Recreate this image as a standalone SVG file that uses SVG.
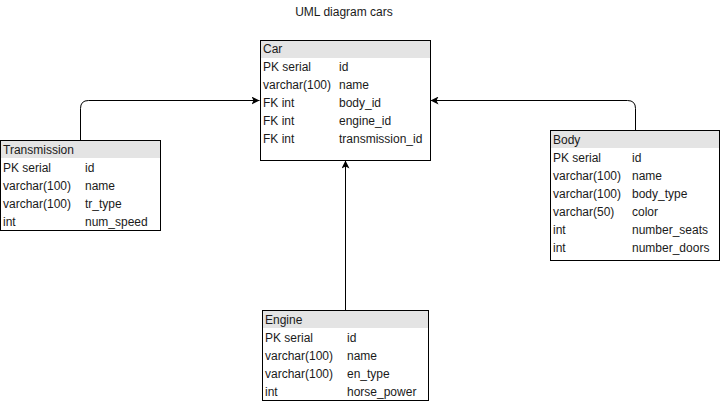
<svg xmlns="http://www.w3.org/2000/svg" width="721" height="401" viewBox="0 0 721 401">
<defs>
<style>
.box{fill:#ffffff;stroke:#000000;stroke-width:1}
.hdr{fill:#e4e4e4;stroke:none}
.t{font-family:"Liberation Sans",Arial,sans-serif;font-size:12px;fill:#1a1a1a}
.title{font-family:"Liberation Sans",Arial,sans-serif;font-size:12px;fill:#1a1a1a;text-anchor:middle}
.edge{fill:none;stroke:#000000;stroke-width:1}
</style>
<marker id="arr" viewBox="0 0 10 10" refX="10" refY="5" markerWidth="8" markerHeight="8" markerUnits="userSpaceOnUse" orient="auto">
<path d="M0,0 L10,5 L0,10 L2.5,5 Z" fill="#000000"/>
</marker>
</defs>
<rect width="721" height="401" fill="#ffffff"/>
<text class="title" x="344" y="16">UML diagram cars</text>

<g id="connectors">
<path class="edge" d="M80.5,140.5 V108.5 Q80.5,100.5 88.5,100.5 H259.5" marker-end="url(#arr)"/>
<path class="edge" d="M635.5,130.5 V108.5 Q635.5,100.5 627.5,100.5 H430.5" marker-end="url(#arr)"/>
<path class="edge" d="M345.5,310.5 V160.5" marker-end="url(#arr)"/>
</g>

<g id="car">
<rect class="box" x="260.5" y="40.5" width="170" height="120"/>
<rect class="hdr" x="261" y="41" width="169" height="17"/>
<text class="t" x="263" y="53">Car</text>
<text class="t" x="263" y="71">PK serial</text><text class="t" x="339" y="71">id</text>
<text class="t" x="263" y="89">varchar(100)</text><text class="t" x="339" y="89">name</text>
<text class="t" x="263" y="107">FK int</text><text class="t" x="339" y="107">body_id</text>
<text class="t" x="263" y="125">FK int</text><text class="t" x="339" y="125">engine_id</text>
<text class="t" x="263" y="143">FK int</text><text class="t" x="339" y="143">transmission_id</text>
</g>

<g id="transmission">
<rect class="box" x="0.5" y="140.5" width="160" height="90"/>
<rect class="hdr" x="1" y="141" width="159" height="17"/>
<text class="t" x="3" y="154">Transmission</text>
<text class="t" x="3" y="172">PK serial</text><text class="t" x="85" y="172">id</text>
<text class="t" x="3" y="190">varchar(100)</text><text class="t" x="85" y="190">name</text>
<text class="t" x="3" y="208">varchar(100)</text><text class="t" x="85" y="208">tr_type</text>
<text class="t" x="3" y="226">int</text><text class="t" x="85" y="226">num_speed</text>
</g>

<g id="body">
<rect class="box" x="550.5" y="130.5" width="169" height="130"/>
<rect class="hdr" x="551" y="131" width="168" height="17"/>
<text class="t" x="553" y="144">Body</text>
<text class="t" x="553" y="162">PK serial</text><text class="t" x="632" y="162">id</text>
<text class="t" x="553" y="180">varchar(100)</text><text class="t" x="632" y="180">name</text>
<text class="t" x="553" y="198">varchar(100)</text><text class="t" x="632" y="198">body_type</text>
<text class="t" x="553" y="216">varchar(50)</text><text class="t" x="632" y="216">color</text>
<text class="t" x="553" y="234">int</text><text class="t" x="632" y="234">number_seats</text>
<text class="t" x="553" y="252">int</text><text class="t" x="632" y="252">number_doors</text>
</g>

<g id="engine">
<rect class="box" x="262.5" y="310.5" width="166" height="90"/>
<rect class="hdr" x="263" y="311" width="165" height="17"/>
<text class="t" x="265" y="324">Engine</text>
<text class="t" x="265" y="342">PK serial</text><text class="t" x="347" y="342">id</text>
<text class="t" x="265" y="360">varchar(100)</text><text class="t" x="347" y="360">name</text>
<text class="t" x="265" y="378">varchar(100)</text><text class="t" x="347" y="378">en_type</text>
<text class="t" x="265" y="396">int</text><text class="t" x="347" y="396">horse_power</text>
</g>
</svg>
